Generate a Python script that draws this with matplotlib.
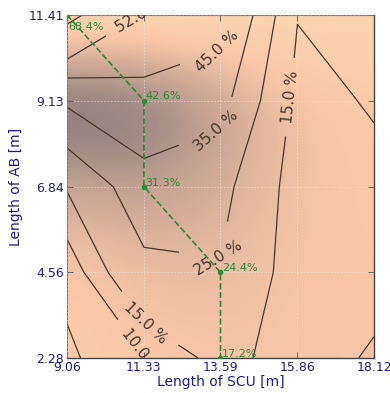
import numpy as np
import matplotlib
matplotlib.use("Agg")
import matplotlib.pyplot as plt
from matplotlib.colors import LinearSegmentedColormap

# ---- data ----
scu_lengths = [9.06, 11.33, 13.59, 15.86, 18.12]
ab_lengths = [2.28, 4.56, 6.84, 9.13, 11.41]
x_tick_labels = ["9.06", "11.33", "13.59", "15.86", "18.12"]
y_tick_labels = ["2.28", "4.56", "6.84", "9.13", "11.41"]

# contour values (%), rows = AB length (bottom->top), cols = SCU length
z_row_228 = [4.0, 9.7, 17.2, 12.0, 9.5]
z_row_456 = [6.5, 22.4, 24.4, 10.7, 11.5]
z_row_684 = [15.5, 31.3, 28.0, 11.0, 13.0]
z_row_913 = [36.6, 42.6, 38.5, 12.5, 15.7]
z_row_1141 = [68.4, 51.4, 49.5, 15.3, 17.0]
contour_levels = [5, 10, 15, 25, 35, 45, 52, 65]

# background shading (relative darkness 0..1)
b_row_228 = [0.27, 0.32, 0.35, 0.35, 0.34]
b_row_456 = [0.29, 0.40, 0.42, 0.35, 0.33]
b_row_684 = [0.55, 0.62, 0.50, 0.36, 0.32]
b_row_913 = [1.00, 0.93, 0.64, 0.37, 0.30]
b_row_1141 = [0.04, 0.05, 0.07, 0.12, 0.15]

# optimal path
path_scu = [9.06, 11.33, 11.33, 13.59, 13.59]
path_ab = [11.41, 9.13, 6.84, 4.56, 2.28]
path_labels = ["68.4%", "42.6%", "31.3%", "24.4%", "17.2%"]

Z = np.array([z_row_228, z_row_456, z_row_684, z_row_913, z_row_1141])
B = np.array([b_row_228, b_row_456, b_row_684, b_row_913, b_row_1141])
X, Y = np.meshgrid(scu_lengths, ab_lengths)

fig = plt.figure(figsize=(3.9, 3.93), dpi=100)
ax = fig.add_axes([67/390, 35/393, 307/390, 343/393])

cmap = LinearSegmentedColormap.from_list(
    "bg", [(0.0, "#fde2b8"), (0.33, "#fbc8a7"), (0.6, "#c3a292"), (1.0, "#5c6272")])
dx = (scu_lengths[1] - scu_lengths[0]) / 2
dy = (ab_lengths[1] - ab_lengths[0]) / 2
ax.imshow(B, origin="lower", cmap=cmap, vmin=0, vmax=1, interpolation="bicubic",
          extent=[scu_lengths[0]-dx, scu_lengths[-1]+dx, ab_lengths[0]-dy, ab_lengths[-1]+dy],
          aspect="auto", zorder=0)

cs = ax.contour(X, Y, Z, levels=contour_levels, colors="#4a372b", linewidths=0.9, zorder=2)
label_pos = [(11.30, 11.25), (13.49, 10.45), (13.49, 8.22), (13.52, 4.94),
             (15.55, 9.23), (11.40, 3.25), (11.25, 2.45)]
texts = ax.clabel(cs, fmt="%.1f %%", manual=label_pos, inline=True, fontsize=11,
                  colors="#4a372b")

ax.plot(path_scu, path_ab, linestyle="--", color="#2e8b3a", linewidth=1.2,
        marker="o", markersize=3, zorder=3)
for i, (px, py, lab) in enumerate(zip(path_scu, path_ab, path_labels)):
    off = (1, -9) if i == 0 else (1, 3)
    ax.annotate(lab, (px, py), xytext=off, textcoords="offset points",
                fontsize=8, color="#2e8b3a", va="center", ha="left", zorder=4)

ax.set_xlim(scu_lengths[0], scu_lengths[-1])
ax.set_ylim(ab_lengths[0], ab_lengths[-1])
ax.set_xticks(scu_lengths)
ax.set_xticklabels(x_tick_labels)
ax.set_yticks(ab_lengths)
ax.set_yticklabels(y_tick_labels)
tick_color = "#1c1c8a"
ax.tick_params(direction="in", top=True, right=True, length=4, width=0.6,
               labelsize=9, labelcolor=tick_color, color="#555555", pad=2)
ax.set_xlabel("Length of SCU [m]", fontsize=10, color=tick_color, labelpad=1)
ax.set_ylabel("Length of AB [m]", fontsize=10, color=tick_color, labelpad=4)
ax.grid(True, color="#eeeeee", linestyle=(0, (2, 2)), linewidth=0.6, alpha=0.55)
for s in ["top", "left"]:
    ax.spines[s].set_linestyle((0, (2, 1.5)))
    ax.spines[s].set_color("#777777")
    ax.spines[s].set_linewidth(0.8)
for s in ["bottom", "right"]:
    ax.spines[s].set_color("#444444")
    ax.spines[s].set_linewidth(1.0)

fig.savefig("out.png", dpi=100)
